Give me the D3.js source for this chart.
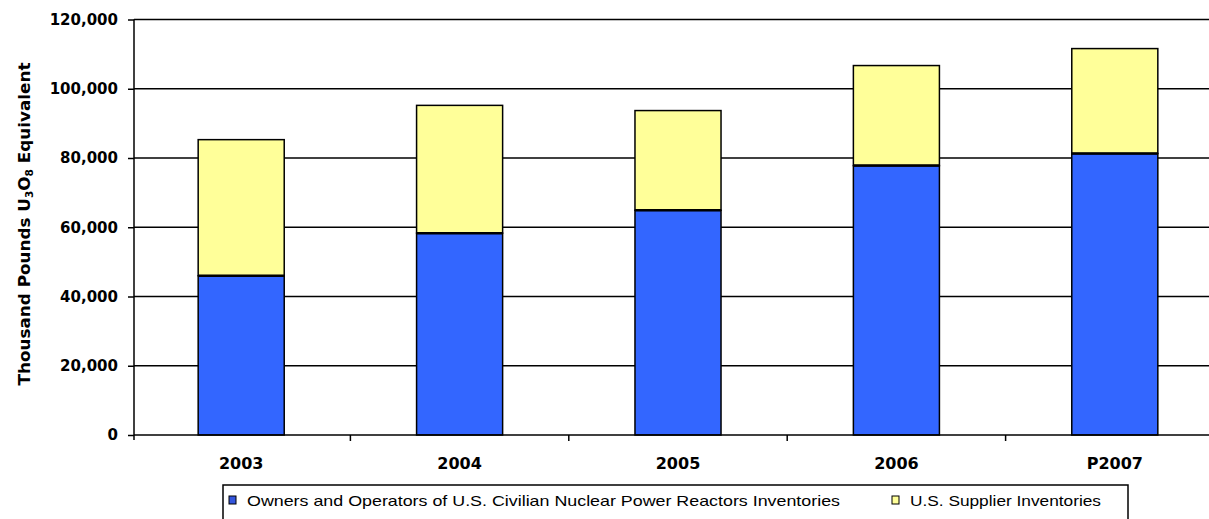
<!DOCTYPE html>
<html>
<head>
<meta charset="utf-8">
<script src="https://cdn.jsdelivr.net/npm/d3@7/dist/d3.min.js"></script>
<style>
  body { margin: 0; background: #fff; }
  svg { display: block; }
  .tick-lbl { font-family: "DejaVu Sans", sans-serif; font-weight: bold; font-size: 15px; fill: #000; }
  .legend text { font-family: "Liberation Sans", Arial, sans-serif; font-size: 15px; fill: #000; }
</style>
</head>
<body>
<script>
var years = ["2003", "2004", "2005", "2006", "P2007"]
var owners = [46000, 58300, 64900, 77800, 81300]
var suppliers = [39300, 36900, 28800, 28900, 30300]
var yTicks = [0, 20000, 40000, 60000, 80000, 100000, 120000]
var seriesNames = ["Owners and Operators of U.S. Civilian Nuclear Power Reactors Inventories", "U.S. Supplier Inventories"]
var seriesColors = ["#3366ff", "#ffff99"]

var W = 1209, H = 519
var x0 = 134, yBase = 435, yTop = 19.5

var svg = d3.select('body').append('svg')
  .attr('width', W)
  .attr('height', H)

var rows = years.map(function(y, i) {
  return { year: y, owners: owners[i], suppliers: suppliers[i] }
})
var stacked = d3.stack().keys(["owners", "suppliers"])(rows)

var x = d3.scaleBand()
  .domain(years)
  .range([132, 1224])
  .paddingInner(0.606)
  .paddingOuter(0.303)

var y = d3.scaleLinear()
  .domain([0, 120000])
  .range([yBase, yTop])

// gridlines
svg.append('g')
  .selectAll('line')
  .data(yTicks.slice(1))
  .enter().append('line')
  .attr('x1', x0)
  .attr('x2', W)
  .attr('y1', function(d) { return y(d) })
  .attr('y2', function(d) { return y(d) })
  .attr('stroke', '#000')
  .attr('stroke-width', 1.5)

// y axis
var yAxis = svg.append('g')
  .attr('transform', 'translate(' + x0 + ',0)')
  .call(d3.axisLeft(y).tickValues(yTicks).tickSize(6).tickPadding(10).tickFormat(d3.format(',')))
yAxis.select('.domain').remove()
yAxis.selectAll('.tick line').attr('stroke', '#000').attr('stroke-width', 1.5)
yAxis.selectAll('.tick text').attr('class', 'tick-lbl').attr('font-size', null).attr('font-family', null)
yAxis.append('line')
  .attr('x1', 0).attr('x2', 0)
  .attr('y1', yTop).attr('y2', yBase + 5)
  .attr('stroke', '#000').attr('stroke-width', 1.5)

// bars
var layers = svg.append('g')
  .selectAll('g')
  .data(stacked)
  .enter().append('g')
  .attr('fill', function(d, i) { return seriesColors[i] })

layers.selectAll('rect')
  .data(function(d) { return d })
  .enter().append('rect')
  .attr('x', function(d) { return x(d.data.year) })
  .attr('width', x.bandwidth())
  .attr('y', function(d) { return y(d[1]) })
  .attr('height', function(d) { return y(d[0]) - y(d[1]) })
  .attr('stroke', '#000')
  .attr('stroke-width', 1.5)

// blue/yellow divider
svg.append('g')
  .selectAll('line')
  .data(rows)
  .enter().append('line')
  .attr('x1', function(d) { return x(d.year) })
  .attr('x2', function(d) { return x(d.year) + x.bandwidth() })
  .attr('y1', function(d) { return y(d.owners) })
  .attr('y2', function(d) { return y(d.owners) })
  .attr('stroke', '#000')
  .attr('stroke-width', 2.5)

// x axis
svg.append('line')
  .attr('x1', x0).attr('x2', W)
  .attr('y1', yBase).attr('y2', yBase)
  .attr('stroke', '#000').attr('stroke-width', 1.5)

svg.append('g')
  .selectAll('line')
  .data(years.slice(1))
  .enter().append('line')
  .attr('x1', function(d) { return x(d) - x.step() * x.paddingInner() / 2 })
  .attr('x2', function(d) { return x(d) - x.step() * x.paddingInner() / 2 })
  .attr('y1', yBase)
  .attr('y2', yBase + 6)
  .attr('stroke', '#000').attr('stroke-width', 1.5)

svg.append('g')
  .selectAll('text')
  .data(years)
  .enter().append('text')
  .attr('class', 'tick-lbl')
  .attr('x', function(d) { return x(d) + x.bandwidth() / 2 })
  .attr('y', 469)
  .attr('text-anchor', 'middle')
  .style('font-size', '16px')
  .text(function(d) { return d })

// y title
var title = svg.append('text')
  .attr('class', 'tick-lbl')
  .attr('transform', 'translate(30,224) rotate(-90)')
  .attr('text-anchor', 'middle')
  .attr('textLength', 323)
  .attr('lengthAdjust', 'spacingAndGlyphs')
  .style('font-size', '16px')
title.append('tspan').text('Thousand Pounds U')
title.append('tspan').attr('font-size', '10px').attr('dy', 3).text('3')
title.append('tspan').attr('dy', -3).text('O')
title.append('tspan').attr('font-size', '10px').attr('dy', 3).text('8')
title.append('tspan').attr('dy', -3).text(' Equivalent')

// legend
var legend = svg.append('g').attr('class', 'legend')
legend.append('rect')
  .attr('x', 223).attr('y', 485)
  .attr('width', 905).attr('height', 60)
  .attr('fill', '#fff')
  .attr('stroke', '#000').attr('stroke-width', 1.5)

var legX = [229, 892]
var legW = [593, 191]
seriesNames.forEach(function(name, i) {
  legend.append('rect')
    .attr('x', legX[i]).attr('y', 496)
    .attr('width', 7).attr('height', 8)
    .attr('fill', i === 0 ? '#3355dd' : seriesColors[i])
    .attr('stroke', '#000').attr('stroke-width', 1)
  legend.append('text')
    .attr('x', legX[i] + 18)
    .attr('y', 506)
    .attr('textLength', legW[i])
    .attr('lengthAdjust', 'spacingAndGlyphs')
    .text(name)
})
</script>
</body>
</html>
